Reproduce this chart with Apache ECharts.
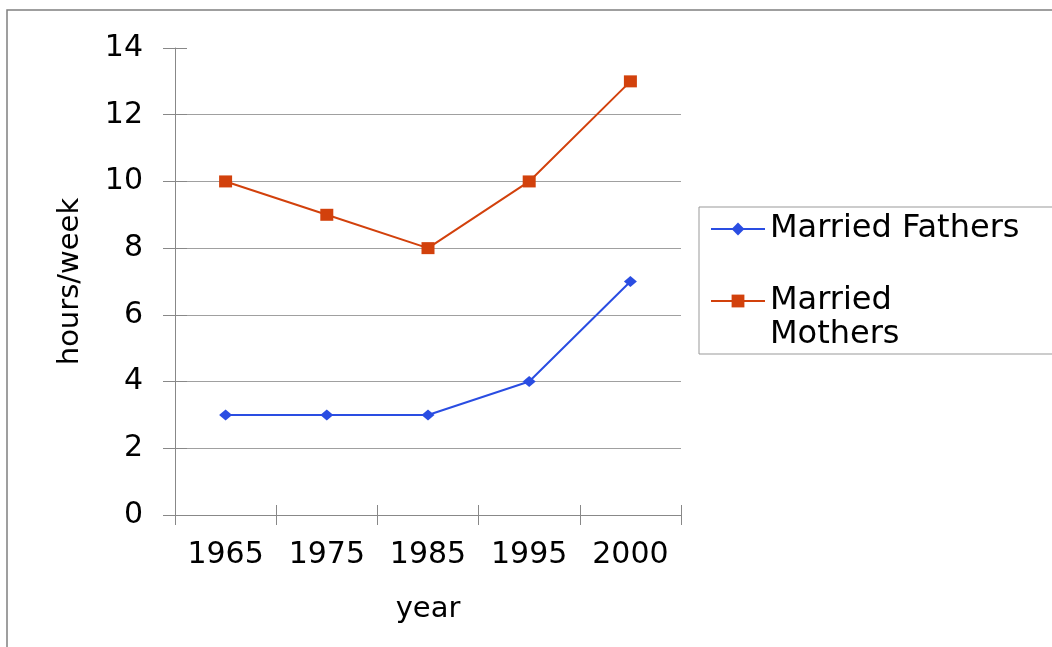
<!DOCTYPE html>
<html>
<head>
<meta charset="utf-8">
<script src="https://cdn.jsdelivr.net/npm/echarts@6/dist/echarts.min.js"></script>
<style>
  html, body { margin: 0; padding: 0; background: #fff; }
  #chart { width: 1052px; height: 647px; }
</style>
</head>
<body>
<div id="chart"></div>
<script>
  // data
  var years = ['1965', '1975', '1985', '1995', '2000'];
  var fathers = [3, 3, 3, 4, 7];
  var mothers = [10, 9, 8, 10, 13];
  var yTicks = { min: 0, max: 14, step: 2 };

  var font = 'DejaVu Sans';
  var myChart = echarts.init(document.getElementById('chart'));

  let option = {
    animation: false,
    textStyle: { fontFamily: font },
    grid: { left: 175, right: 371, top: 48, bottom: 132 },
    // frame + legend box
    graphic: [
      { type: 'polyline', shape: { points: [[7, 647], [7, 10], [1052, 10]] },
        style: { stroke: '#808080', lineWidth: 1.5, fill: null } },
      { type: 'rect', shape: { x: 699, y: 207, width: 400, height: 147 },
        style: { stroke: '#999', lineWidth: 1, fill: null } }
    ],
    legend: [
      {
        data: ['Married Fathers'],
        left: 710, top: 212, padding: 0,
        itemWidth: 54, itemHeight: 16,
        textStyle: { fontFamily: font, fontSize: 32, color: '#000', lineHeight: 34 }
      },
      {
        data: ['Married Mothers'],
        left: 710, top: 250, padding: 0,
        itemWidth: 54, itemHeight: 16,
        // blank first line keeps "Married" level with the icon
        formatter: function (name) { return ' \n' + name.replace(' ', '\n'); },
        textStyle: { fontFamily: font, fontSize: 32, color: '#000', lineHeight: 34 }
      }
    ],
    xAxis: [
      {
        type: 'category',
        data: years,
        boundaryGap: true,
        name: 'year',
        nameLocation: 'middle',
        nameGap: 80,
        nameTextStyle: { fontFamily: font, fontSize: 29, color: '#000' },
        axisLine: { lineStyle: { color: '#888', width: 1 } },
        axisTick: { show: true, inside: false, length: 10, lineStyle: { color: '#888' } },
        axisLabel: { margin: 25, fontFamily: font, fontSize: 30, color: '#000' }
      },
      {
        // inner half of the cross ticks
        type: 'category',
        data: years,
        position: 'bottom',
        boundaryGap: true,
        axisLine: { show: false },
        axisTick: { show: true, inside: true, length: 10, lineStyle: { color: '#888' } },
        axisLabel: { show: false }
      }
    ],
    yAxis: [
      {
        type: 'value',
        min: yTicks.min, max: yTicks.max, interval: yTicks.step,
        name: 'hours/week',
        nameLocation: 'middle',
        nameRotate: 90,
        nameGap: 90,
        nameTextStyle: { fontFamily: font, fontSize: 29, color: '#000' },
        axisLine: { show: true, lineStyle: { color: '#888', width: 1 } },
        axisTick: { show: true, inside: false, length: 12, lineStyle: { color: '#888' } },
        axisLabel: { margin: 32, fontFamily: font, fontSize: 30, color: '#000' },
        splitLine: { show: true, showMaxLine: false, lineStyle: { color: '#a0a0a0', width: 1 } }
      },
      {
        type: 'value',
        position: 'left',
        min: yTicks.min, max: yTicks.max, interval: yTicks.step,
        axisLine: { show: false },
        axisTick: { show: true, inside: true, length: 12, lineStyle: { color: '#888' } },
        axisLabel: { show: false },
        splitLine: { show: false }
      }
    ],
    series: [
      {
        name: 'Married Fathers',
        type: 'line',
        data: fathers,
        symbol: 'diamond',
        symbolSize: [13, 11],
        itemStyle: { color: '#2a4de2' },
        lineStyle: { color: '#2a4de2', width: 2 }
      },
      {
        name: 'Married Mothers',
        type: 'line',
        data: mothers,
        symbol: 'rect',
        symbolSize: [13, 12],
        itemStyle: { color: '#d2410c' },
        lineStyle: { color: '#d2410c', width: 2 }
      }
    ]
  };
  myChart.setOption(option);
</script>
</body>
</html>
